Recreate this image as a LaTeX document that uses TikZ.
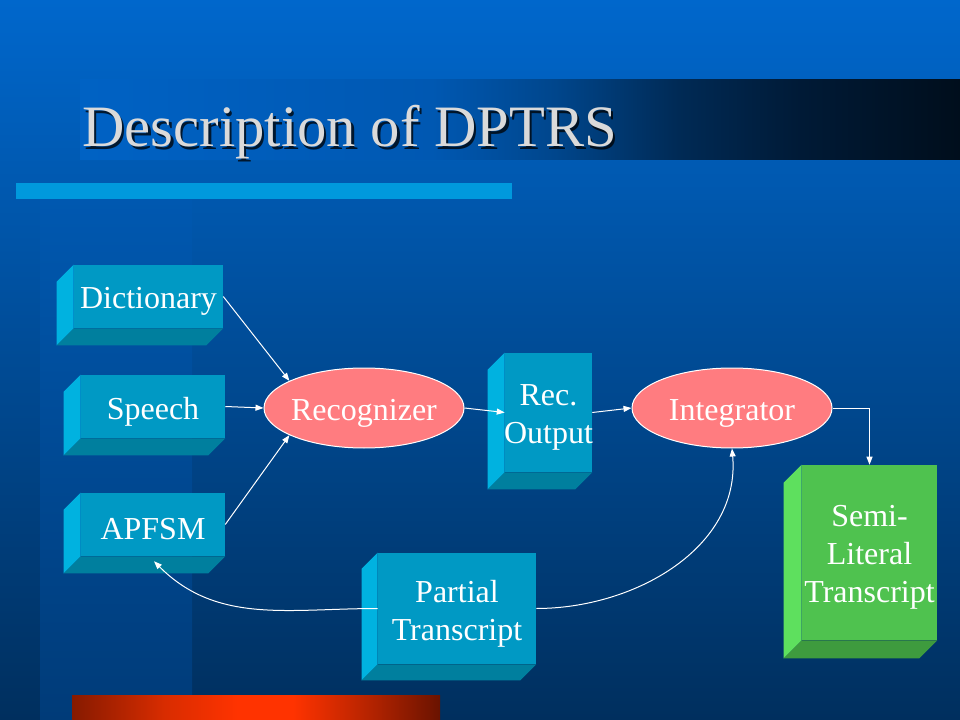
\documentclass[tikz,border=0pt]{standalone}
\usepackage{fontspec}
\setmainfont{Liberation Serif}
\usetikzlibrary{shapes.geometric,arrows.meta,calc}
\definecolor{bgtop}{HTML}{0067CC}
\definecolor{bgbot}{HTML}{002F5E}
\definecolor{striptop}{HTML}{0058B0}
\definecolor{stripbot}{HTML}{003B78}
\definecolor{lightbar}{HTML}{0099DD}
\definecolor{tb0}{HTML}{0062C4}
\definecolor{tb1}{HTML}{0058B2}
\definecolor{tb2}{HTML}{00468C}
\definecolor{tb3}{HTML}{002A55}
\definecolor{tb4}{HTML}{001A36}
\definecolor{tb5}{HTML}{000E1C}
\definecolor{rb0}{HTML}{861A00}
\definecolor{rb1}{HTML}{D82C00}
\definecolor{rb2}{HTML}{FF3300}
\definecolor{rb3}{HTML}{B82400}
\definecolor{rb4}{HTML}{6A1300}
\definecolor{cubefront}{HTML}{0099C4}
\definecolor{cubeleft}{HTML}{00B2E0}
\definecolor{cubebottom}{HTML}{007F9E}
\definecolor{greenfront}{HTML}{4FC24F}
\definecolor{greenleft}{HTML}{5EE05E}
\definecolor{greenbottom}{HTML}{3E9B3E}
\definecolor{ellfill}{HTML}{FF7C80}
\definecolor{titlegray}{HTML}{DADADA}
\pgfdeclareverticalshading{bgshade}{100bp}{color(0bp)=(bgbot); color(25bp)=(bgbot); color(75bp)=(bgtop); color(100bp)=(bgtop)}
\pgfdeclareverticalshading{stripshade}{100bp}{color(0bp)=(stripbot); color(25bp)=(stripbot); color(75bp)=(striptop); color(100bp)=(striptop)}
\pgfdeclarehorizontalshading{titleshade}{100bp}{color(0bp)=(tb0); color(25bp)=(tb0); color(45bp)=(tb1); color(52bp)=(tb2); color(59bp)=(tb3); color(66bp)=(tb4); color(75bp)=(tb5); color(100bp)=(tb5)}
\pgfdeclarehorizontalshading{redshade}{100bp}{color(0bp)=(rb0); color(25bp)=(rb0); color(37.5bp)=(rb1); color(47.5bp)=(rb2); color(55bp)=(rb2); color(65bp)=(rb3); color(75bp)=(rb4); color(100bp)=(rb4)}
\newcommand\diafont{\fontsize{24}{28.5}\selectfont}
\newcommand\headfont{\fontsize{44}{50}\selectfont}
\newcommand\cubefaces[4]{%
  \fill[#3] (#1.north west) -- ++(-#2,#2) -- ($(#1.south west)+(-#2,#2)$) -- (#1.south west) -- cycle;
  \fill[#4] (#1.south west) -- (#1.south east) -- ++(-#2,#2) -- ($(#1.south west)+(-#2,#2)$) -- cycle;}
\begin{document}
\begin{tikzpicture}[x=0.75pt,y=-0.75pt,
  cube/.style={draw=none, fill=cubefront, inner sep=0pt},
  gcube/.style={cube, fill=greenfront},
  lbl/.style={inner sep=0pt, text=white, font=\diafont, align=center},
  ell/.style={ellipse, draw=white, line width=0.75pt, fill=ellfill, inner sep=0pt,
    minimum width={200*0.75pt}, minimum height={80*0.75pt}},
  arr/.style={draw=white, line width=0.75pt, -{Triangle[length=6pt,width=4.5pt]}}]
\useasboundingbox (0,0) rectangle (960,720);
% background
\shade[shading=bgshade] (0,0) rectangle (960,720);
\shade[shading=stripshade] (40,200) rectangle (192,720);
\shade[shading=titleshade] (80,80) rectangle (960,160);
\fill[lightbar] (16,183) rectangle (512,199);
\shade[shading=redshade] (72,695) rectangle (440,720);
% title
\node[anchor=base west, text=black, opacity=0.75, font=\headfont, inner sep=0pt] (titleshadow) at (84.5,149.5) {Description of DPTRS};
\node[anchor=base west, text=titlegray, font=\headfont, inner sep=0pt] (title) at (82,147) {Description of DPTRS};
% boxes
\node[cube, minimum width={149*0.75pt}, minimum height={63*0.75pt}] (dict) at (148.5,296.5) {};
\cubefaces{dict}{17}{cubeleft}{cubebottom}
\node[lbl] (dicttext) at ($(dict.center)+(0,5)$) {Dictionary};
\node[cube, minimum width={144*0.75pt}, minimum height={63*0.75pt}] (speech) at (153,406.5) {};
\cubefaces{speech}{17}{cubeleft}{cubebottom}
\node[lbl] (speechtext) at ($(speech.center)+(0,5)$) {Speech};
\node[cube, minimum width={144*0.75pt}, minimum height={63*0.75pt}] (apfsm) at (153,524.5) {};
\cubefaces{apfsm}{17}{cubeleft}{cubebottom}
\node[lbl] (apfsmtext) at ($(apfsm.center)+(0,5)$) {APFSM};
\node[cube, minimum width={87*0.75pt}, minimum height={119*0.75pt}] (recout) at (548.5,412.5) {};
\cubefaces{recout}{17}{cubeleft}{cubebottom}
\node[lbl] (recouttext) at ($(recout.center)+(0,5)$) {Rec.\\Output};
\node[gcube, minimum width={135*0.75pt}, minimum height={175*0.75pt}] (semi) at (869.5,552.5) {};
\cubefaces{semi}{18}{greenleft}{greenbottom}
\node[lbl] (semitext) at ($(semi.center)+(0,5)$) {Semi-\\Literal\\Transcript};
\node[cube, minimum width={158*0.75pt}, minimum height={111*0.75pt}] (partial) at (457,608.5) {};
\cubefaces{partial}{16}{cubeleft}{cubebottom}
\node[lbl] (partialtext) at ($(partial.center)+(0,5)$) {Partial\\Transcript};
% ellipses
\node[ell] (rec) at (364,408) {};
\node[lbl] (rectext) at ($(rec.center)+(0,5)$) {Recognizer};
\node[ell] (integ) at (732,408) {};
\node[lbl] (integtext) at ($(integ.center)+(0,5)$) {Integrator};
\coordinate (apin) at ($(apfsm.south)+(1,5)$);
% connectors
\draw[arr] (dict.east) -- (rec.160);
\draw[arr] (speech.east) -- (rec.west);
\draw[arr] (apfsm.east) -- (rec.200);
\draw[arr] (rec.east) -- (recout.west);
\draw[arr] (recout.east) -- (integ.west);
\draw[arr] (integ.east) -| (semi.north);
\draw[arr] (partial.east) to[out=0, in=-85] (integ.south);
\draw[arr] (partial.west) to[out=180, in=-45] (apin);
\end{tikzpicture}
\end{document}
